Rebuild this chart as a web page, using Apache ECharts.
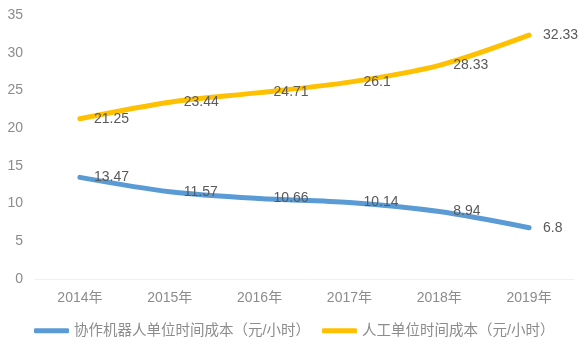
<!DOCTYPE html>
<html><head><meta charset="utf-8">
<script src="https://cdn.jsdelivr.net/npm/echarts@6/dist/echarts.min.js"></script>
<style>html,body{margin:0;padding:0;background:#fff}#c{width:588px;height:350px}</style>
</head><body><div id="c"></div>
<script>
var categories = ['2014年','2015年','2016年','2017年','2018年','2019年'];
var robotCost = [13.47, 11.57, 10.66, 10.14, 8.94, 6.8];
var laborCost = [21.25, 23.44, 24.71, 26.1, 28.33, 32.33];
var seriesNames = ['协作机器人单位时间成本（元/小时）','人工单位时间成本（元/小时）'];
var yTicks = {min:0, max:35, interval:5};

var font = '"Liberation Sans", Arial, "Noto Sans CJK SC", sans-serif';
var chart = echarts.init(document.getElementById('c'));
var lbl = {show:true, position:'right', distance:14, color:'#595959', fontSize:14, fontFamily:font,
  formatter: function(p){return String(p.value);}};
chart.setOption({
  animation:false,
  textStyle:{fontFamily:font},
  grid:{left:35, right:14, top:15, bottom:71, containLabel:false},
  legend:{bottom:12, left:34, padding:0, itemWidth:35, itemHeight:5, itemGap:12, icon:'roundRect',
    textStyle:{color:'#8c8c8c', fontSize:14.5, fontFamily:font},
    data:seriesNames},
  xAxis:{type:'category', data:categories, boundaryGap:true,
    axisLine:{lineStyle:{color:'#f0f0f0'}}, axisTick:{show:false},
    axisLabel:{color:'#8c8c8c', fontSize:14, margin:12, fontFamily:font}},
  yAxis:{type:'value', min:yTicks.min, max:yTicks.max, interval:yTicks.interval,
    splitLine:{show:false}, axisLine:{show:false}, axisTick:{show:false},
    axisLabel:{color:'#8c8c8c', fontSize:14, margin:12, fontFamily:font}},
  series:[
    {name:seriesNames[0], type:'line', data:robotCost, smooth:0.3, showSymbol:true, symbol:'circle', symbolSize:0,
      lineStyle:{color:'#5b9bd5', width:5, cap:'round'}, itemStyle:{color:'#5b9bd5'}, label:lbl},
    {name:seriesNames[1], type:'line', data:laborCost, smooth:0.3, showSymbol:true, symbol:'circle', symbolSize:0,
      lineStyle:{color:'#ffc000', width:5, cap:'round'}, itemStyle:{color:'#ffc000'}, label:lbl}
  ]
});
</script></body></html>
